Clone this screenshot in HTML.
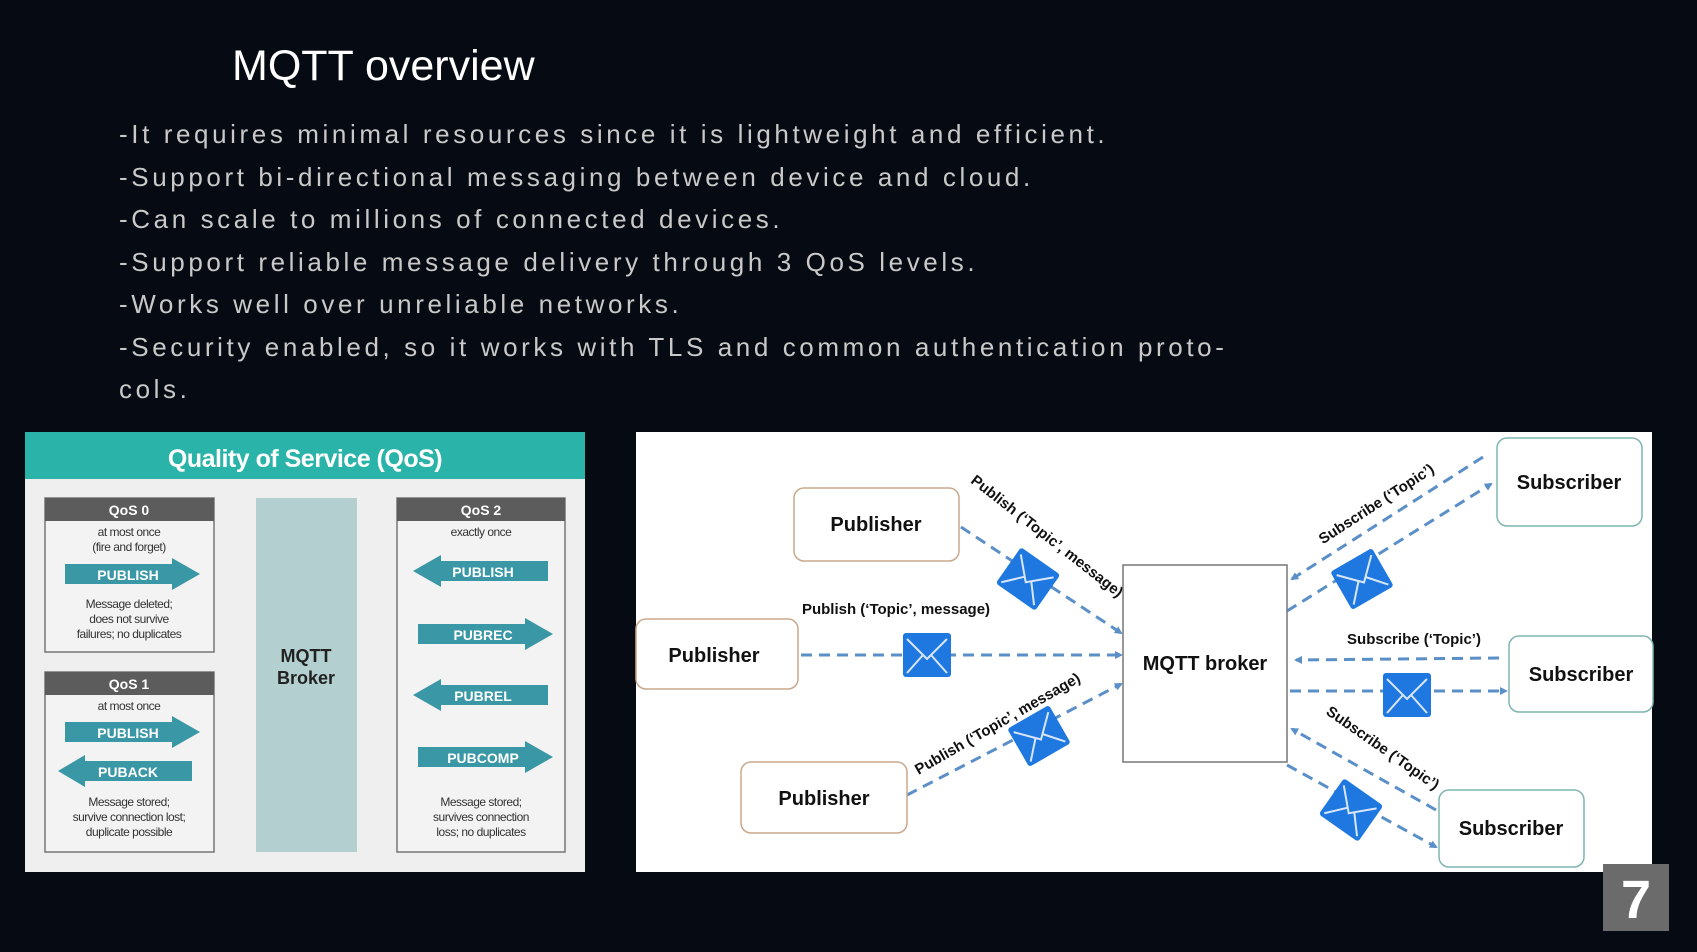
<!DOCTYPE html>
<html><head><meta charset="utf-8"><style>
html,body{margin:0;padding:0;background:#060a12;}
svg{display:block}
</style></head><body>
<svg width="1697" height="952" viewBox="0 0 1697 952" xmlns="http://www.w3.org/2000/svg" font-family="Liberation Sans, sans-serif">
<defs>
<marker id="ah" markerWidth="8" markerHeight="8" refX="6" refY="4" orient="auto" markerUnits="userSpaceOnUse"><path d="M0,0 L8,4 L0,8 z" fill="#5b8fc7"/></marker>
<g id="env"><rect x="-24" y="-22" width="48" height="44" rx="3" fill="#1f78e0"/><path d="M-20,-16 L0,4 L20,-16 M-20,18 L-4,0 M20,18 L4,0" stroke="#d8e6f7" stroke-width="2" fill="none"/></g>
</defs>
<rect width="1697" height="952" fill="#060a12"/>
<text x="232" y="80" fill="#ffffff" font-size="43">MQTT overview</text>
<g fill="#c9c9c9" font-size="26" letter-spacing="3.6">
<text x="119" y="143">-It requires minimal resources since it is lightweight and efficient.</text>
<text x="119" y="186">-Support bi-directional messaging between device and cloud.</text>
<text x="119" y="228">-Can scale to millions of connected devices.</text>
<text x="119" y="271">-Support reliable message delivery through 3 QoS levels.</text>
<text x="119" y="313">-Works well over unreliable networks.</text>
<text x="119" y="356">-Security enabled, so it works with TLS and common authentication proto-</text>
<text x="119" y="398">cols.</text>
</g>
<!-- Left QoS panel -->
<rect x="25" y="432" width="560" height="440" fill="#efefef"/>
<rect x="25" y="432" width="560" height="47" fill="#2ab3a8"/>
<text x="305" y="467" fill="#fff" font-size="25" font-weight="bold" text-anchor="middle" letter-spacing="-0.5">Quality of Service (QoS)</text>
<rect x="45" y="498" width="169" height="154" fill="#f3f3f3" stroke="#777" stroke-width="1.5"/>
<rect x="45" y="498" width="169" height="23" fill="#5c5c5c"/>
<rect x="45" y="672" width="169" height="180" fill="#f3f3f3" stroke="#777" stroke-width="1.5"/>
<rect x="45" y="672" width="169" height="23" fill="#5c5c5c"/>
<rect x="256" y="498" width="101" height="354" fill="#b3cfcf"/>
<rect x="397" y="498" width="168" height="354" fill="#f3f3f3" stroke="#777" stroke-width="1.5"/>
<rect x="397" y="498" width="168" height="23" fill="#5c5c5c"/>
<g font-size="14" font-weight="bold" fill="#fff" text-anchor="middle">
<text x="129" y="515">QoS 0</text><text x="129" y="689">QoS 1</text><text x="481" y="515">QoS 2</text>
</g>
<g font-size="12" fill="#333" text-anchor="middle" letter-spacing="-0.5">
<text x="129" y="536">at most once</text><text x="129" y="551">(fire and forget)</text>
<text x="129" y="608">Message deleted;</text><text x="129" y="623">does not survive</text><text x="129" y="638">failures; no duplicates</text>
<text x="129" y="710">at most once</text>
<text x="129" y="806">Message stored;</text><text x="129" y="821">survive connection lost;</text><text x="129" y="836">duplicate possible</text>
<text x="481" y="536">exactly once</text>
<text x="481" y="806">Message stored;</text><text x="481" y="821">survives connection</text><text x="481" y="836">loss; no duplicates</text>
</g>
<text x="306" y="662" font-size="18" font-weight="bold" fill="#222" text-anchor="middle">MQTT</text>
<text x="306" y="684" font-size="18" font-weight="bold" fill="#222" text-anchor="middle">Broker</text>
<g fill="#3a97a6">
<path d="M65,564 H172 V558 L200,574 L172,590 V584 H65 z"/>
<path d="M65,722 H172 V716 L200,732 L172,748 V742 H65 z"/>
<path d="M192,761 H85 V755 L58,771 L85,787 V781 H192 z"/>
<path d="M548,561 H441 V555 L413,571 L441,587 V581 H548 z"/>
<path d="M418,624 H525 V618 L553,634 L525,650 V644 H418 z"/>
<path d="M548,685 H441 V679 L413,695 L441,711 V705 H548 z"/>
<path d="M418,747 H525 V741 L553,757 L525,773 V767 H418 z"/>
</g>
<g font-size="14" font-weight="bold" fill="#fff" text-anchor="middle">
<text x="128" y="580">PUBLISH</text><text x="128" y="738">PUBLISH</text><text x="128" y="777">PUBACK</text>
<text x="483" y="577">PUBLISH</text><text x="483" y="640">PUBREC</text><text x="483" y="701">PUBREL</text><text x="483" y="763">PUBCOMP</text>
</g>
<!-- Right diagram -->
<rect x="636" y="432" width="1016" height="440" fill="#ffffff"/>
<g stroke="#5b8fc7" stroke-width="3" stroke-dasharray="11 7" fill="none" marker-end="url(#ah)">
<line x1="961" y1="527" x2="1121" y2="633"/>
<line x1="801" y1="655" x2="1121" y2="655"/>
<line x1="907" y1="795" x2="1121" y2="684"/>
<line x1="1287" y1="611" x2="1491" y2="484"/>
<line x1="1483" y1="457" x2="1292" y2="579"/>
<line x1="1499" y1="658" x2="1296" y2="660"/>
<line x1="1290" y1="691" x2="1506" y2="691"/>
<line x1="1436" y1="810" x2="1292" y2="729"/>
<line x1="1287" y1="765" x2="1436" y2="847"/>
</g>
<g fill="#fff" stroke-width="1.5">
<rect x="794" y="488" width="165" height="73" rx="10" stroke="#c9a98c"/>
<rect x="636" y="619" width="162" height="70" rx="10" stroke="#c9a98c"/>
<rect x="741" y="762" width="166" height="71" rx="10" stroke="#c9a98c"/>
<rect x="1123" y="565" width="164" height="197" stroke="#777"/>
<rect x="1497" y="438" width="145" height="88" rx="10" stroke="#7fb5b0"/>
<rect x="1509" y="636" width="144" height="76" rx="10" stroke="#7fb5b0"/>
<rect x="1439" y="790" width="145" height="77" rx="10" stroke="#7fb5b0"/>
</g>
<g font-size="20" font-weight="bold" fill="#111" text-anchor="middle">
<text x="876" y="531">Publisher</text><text x="714" y="662">Publisher</text><text x="824" y="805">Publisher</text>
<text x="1205" y="670">MQTT broker</text>
<text x="1569" y="489">Subscriber</text><text x="1581" y="681">Subscriber</text><text x="1511" y="835">Subscriber</text>
</g>
<use href="#env" transform="translate(1028,579) rotate(35)"/>
<use href="#env" transform="translate(927,655)"/>
<use href="#env" transform="translate(1039,736) rotate(-30)"/>
<use href="#env" transform="translate(1362,579) rotate(-30)"/>
<use href="#env" transform="translate(1407,695)"/>
<use href="#env" transform="translate(1351,810) rotate(35)"/>
<g font-size="15" font-weight="bold" fill="#111" text-anchor="middle">
<text transform="translate(1044,540) rotate(38)">Publish (‘Topic’, message)</text>
<text x="896" y="614">Publish (‘Topic’, message)</text>
<text transform="translate(1000,728) rotate(-30)">Publish (‘Topic’, message)</text>
<text transform="translate(1379,508) rotate(-33)">Subscribe (‘Topic’)</text>
<text x="1414" y="644">Subscribe (‘Topic’)</text>
<text transform="translate(1380,752) rotate(35)">Subscribe (‘Topic’)</text>
</g>
<rect x="1603" y="864" width="66" height="67" fill="#6b6b6b"/>
<text x="1636" y="918" font-size="54" font-weight="bold" fill="#fff" text-anchor="middle">7</text>
</svg>
</body></html>
